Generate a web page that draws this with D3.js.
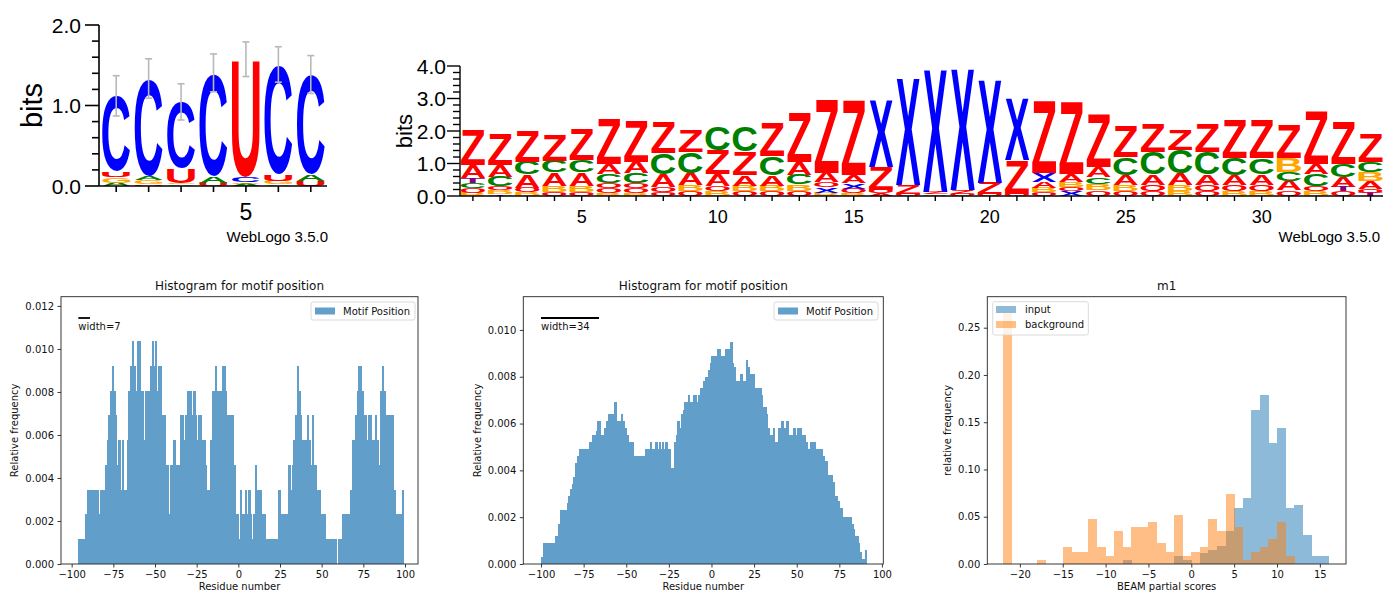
<!DOCTYPE html>
<html><head><meta charset="utf-8">
<script src="https://cdn.jsdelivr.net/npm/d3@7"></script>
<style>body{margin:0;background:#fff}svg{display:block}</style>
</head><body>
<svg id="c" width="1386" height="594"></svg>
<script>
// ================= DATA =================
// Logo 1 (RNA motif), stacks bottom -> top: [letter, bits]
const logo1Positions = [1,2,3,4,5,6,7];
const logo1Stacks = [
 [["A",0.04],["G",0.07],["U",0.07],["C",0.93]],
 [["U",0.02],["G",0.05],["A",0.05],["C",1.20]],
 [["A",0.02],["G",0.02],["U",0.18],["C",0.81]],
 [["U",0.04],["A",0.08],["C",1.26]],
 [["A",0.03],["G",0.02],["C",0.06],["U",1.44]],
 [["A",0.02],["G",0.04],["U",0.08],["C",1.34]],
 [["U",0.06],["A",0.08],["C",1.22]]
];
const logo1ErrLow  = [0.87,1.09,0.82,1.17,1.36,1.29,1.15];
const logo1ErrHigh = [1.37,1.58,1.27,1.64,1.79,1.73,1.62];
const logo1Colors = {A:"#008000", C:"#0000ff", G:"#ffa500", U:"#ff0000"};
const logo1YTicks = [0,1,2];
const logo1XLabels = [5];

// Logo 2 (34 positions)
const logo2Stacks = [
 [["B",0.10],["O",0.15],["C",0.15],["T",0.15],["A",0.40],["Z",1.05]],
 [["T",0.05],["B",0.12],["O",0.13],["C",0.30],["A",0.35],["Z",0.95]],
 [["B",0.12],["O",0.14],["A",0.40],["C",0.40],["Z",0.94]],
 [["O",0.12],["B",0.20],["A",0.40],["C",0.37],["Z",0.79]],
 [["O",0.12],["B",0.20],["A",0.40],["C",0.38],["Z",0.93]],
 [["B",0.08],["O",0.15],["O",0.17],["C",0.28],["A",0.32],["Z",1.37]],
 [["B",0.08],["O",0.15],["O",0.17],["C",0.30],["A",0.34],["Z",1.25]],
 [["O",0.12],["O",0.15],["A",0.40],["C",0.64],["Z",0.95]],
 [["O",0.15],["B",0.18],["A",0.38],["C",0.65],["Z",0.67]],
 [["B",0.15],["O",0.17],["A",0.35],["Z",0.75],["C",0.71]],
 [["O",0.14],["B",0.18],["A",0.33],["Z",0.72],["C",0.76]],
 [["O",0.14],["B",0.18],["A",0.33],["C",0.58],["Z",1.03]],
 [["O",0.15],["B",0.20],["C",0.30],["A",0.41],["Z",1.51]],
 [["B",0.10],["X",0.17],["O",0.15],["A",0.30],["Z",2.23]],
 [["B",0.08],["O",0.15],["X",0.17],["A",0.25],["Z",2.30]],
 [["A",0.08],["O",0.10],["Z",0.72],["X",2.07]],
 [["O",0.06],["Z",0.28],["X",3.33]],
 [["O",0.05],["Z",0.08],["X",3.80]],
 [["O",0.06],["Z",0.12],["X",3.75]],
 [["O",0.06],["Z",0.35],["X",3.18]],
 [["O",0.06],["Z",1.04],["X",1.93]],
 [["O",0.12],["B",0.14],["A",0.18],["X",0.26],["Z",2.20]],
 [["X",0.15],["O",0.13],["B",0.16],["A",0.24],["Z",2.19]],
 [["O",0.17],["B",0.20],["C",0.20],["A",0.31],["Z",1.61]],
 [["O",0.15],["B",0.20],["A",0.30],["C",0.54],["Z",0.96]],
 [["O",0.15],["O",0.20],["A",0.32],["C",0.69],["Z",0.86]],
 [["B",0.15],["B",0.18],["A",0.37],["C",0.72],["Z",0.61]],
 [["O",0.15],["O",0.20],["A",0.33],["C",0.68],["Z",0.86]],
 [["B",0.15],["O",0.20],["A",0.30],["C",0.51],["Z",1.18]],
 [["B",0.15],["O",0.20],["A",0.32],["C",0.49],["Z",1.18]],
 [["O",0.17],["A",0.30],["C",0.28],["B",0.41],["Z",1.02]],
 [["B",0.14],["O",0.15],["C",0.38],["A",0.33],["Z",1.60]],
 [["O",0.15],["T",0.14],["A",0.30],["C",0.41],["Z",1.29]],
 [["T",0.10],["O",0.12],["A",0.24],["B",0.28],["C",0.32],["Z",0.87]]
];
const logo2Colors = {Z:"#ff0000", A:"#ff0000", O:"#ff0000", X:"#0000ff", C:"#008000", B:"#ffa500", T:"#800080"};
const logo2YTicks = [0,1,2,3,4];
const logo2XLabels = [5,10,15,20,25,30];

// Histogram 1: counts per unit bin starting at residue -97, one count = unit frequency
const hist1Start = -97;
const hist1Unit = 0.001152;
const hist1Counts = [
 0,1,1,1,1,2,3,3,3,3,
 3,3,3,2,3,3,3,4,5,6,
 7,8,7,6,4,5,3,5,3,3,
 5,7,8,9,8,7,9,9,7,7,
 5,7,7,7,8,9,8,9,7,8,
 8,6,6,4,4,2,4,4,5,4,
 4,4,6,6,5,6,7,7,7,6,
 7,6,5,6,6,5,5,4,3,3,
 5,7,7,8,7,7,7,8,8,7,
 6,6,6,6,4,2,2,1,3,2,
 2,3,2,3,2,1,2,4,3,3,
 3,2,2,1,1,1,1,1,1,1,
 1,3,2,2,2,2,2,4,3,4,
 5,6,8,7,6,5,5,5,6,5,
 4,6,4,4,3,3,2,2,2,1,
 1,1,1,1,1,1,0,1,1,2,
 2,2,2,2,3,5,5,6,7,8,
 8,7,6,6,5,6,6,5,5,6,
 5,4,7,8,7,6,6,6,6,6,
 3,2,2,2,2,3
];
const hist1Width = 7;

// Histogram 2: relative frequency (x1e-4) per unit bin starting at residue -100
const hist2Start = -100;
const hist2FreqE4 = [
 3,9,9,9,9,9,9,9,12,12,
 17,23,23,23,23,26,29,32,34,37,
 43,46,49,49,49,49,49,49,52,52,
 55,55,57,61,61,55,55,58,61,64,
 64,64,64,69,61,61,61,64,61,58,
 55,52,52,52,46,46,46,46,46,46,
 46,49,49,49,52,49,49,52,49,52,
 49,52,49,52,49,49,41,41,52,55,
 61,58,64,66,69,69,72,69,69,72,
 72,69,72,75,75,78,80,80,83,86,
 89,89,89,92,92,89,89,89,92,92,
 92,95,86,84,78,78,78,81,78,78,
 87,84,81,81,81,75,75,75,75,72,
 67,67,64,58,55,55,58,52,52,58,
 58,61,58,58,61,55,55,55,58,55,
 58,58,58,55,55,52,49,49,52,52,
 52,49,49,49,49,46,44,44,38,38,
 38,35,29,29,27,24,24,20,20,20,
 20,20,17,15,12,12,9,5,2,2,
 6
];
const hist2Width = 34;

// Histogram 3 (m1): unit bins starting at -22
const hist3Start = -22;
const hist3Input = [
 0,0,0,0,0,0,0,0,0,0,
 0,0,0,0,0.004,0,0,0,0,0,
 0.0085,0.004,0,0.012,0.015,0.019,0.035,0.059,0.070,0.163,
 0.179,0.128,0.144,0.059,0.062,0.031,0.0085,0.0085
];
const hist3Background = [
 0.266,0,0,0,0.0042,0,0,0.018,0.013,0.013,
 0.048,0.018,0.0085,0.035,0.018,0.039,0.039,0.044,0.022,0.013,
 0.052,0.0085,0.013,0.018,0.048,0.035,0.074,0.039,0.004,0.013,
 0.018,0.026,0.044,0.0085,0,0,0,0
];

// ================= DRAWING =================
const svg = d3.select("#c");
svg.append("rect").attr("width",1386).attr("height",594).attr("fill","#fff");

const LOGOFONT = "Liberation Sans";
const MPLFONT = "DejaVu Sans";
const cv = document.createElement("canvas").getContext("2d");
const glyphCache = {};
function glyph(ch){
  if(glyphCache[ch]) return glyphCache[ch];
  cv.font = `bold 100px "${LOGOFONT}"`;
  const m = cv.measureText(ch);
  return glyphCache[ch] = {l:m.actualBoundingBoxLeft, r:m.actualBoundingBoxRight, a:m.actualBoundingBoxAscent, d:m.actualBoundingBoxDescent};
}
function drawLetter(g, ch, x0, x1, yTop, yBot, color){
  if (yBot - yTop < 0.4) return;
  const b = glyph(ch);
  const sx = (x1-x0)/(b.l+b.r), sy = (yBot-yTop)/(b.a+b.d);
  g.append("text")
   .attr("transform",`translate(${x0},${yBot}) scale(${sx},${sy}) translate(${b.l},${-b.d})`)
   .attr("font-family",LOGOFONT).attr("font-weight","bold").attr("font-size",100)
   .attr("fill",color).text(ch);
}
function drawLogo(g, stacks, xs, ys, colors, fill){
  const colW = xs(1)-xs(0);
  stacks.forEach((st,i)=>{
    const xc = xs(i+1);
    let cum = 0;
    st.forEach(([ch,h])=>{
      drawLetter(g, ch, xc-colW*fill/2, xc+colW*fill/2, ys(cum+h), ys(cum), colors[ch]);
      cum += h;
    });
  });
}

// ----- Logo 1 -----
{
  const g = svg.append("g");
  const xs = d3.scaleLinear().domain([0.5,7.5]).range([100,327]);
  const ys = d3.scaleLinear().domain([0,2]).range([186,25]);
  drawLogo(g, logo1Stacks, xs, ys, logo1Colors, 0.86);
  const eg = g.append("g").attr("stroke","#b8b8b8").attr("stroke-width",1.6).attr("fill","none");
  logo1Positions.forEach((p,i)=>{
    const x = xs(p);
    eg.append("line").attr("x1",x).attr("x2",x).attr("y1",ys(logo1ErrLow[i])).attr("y2",ys(logo1ErrHigh[i]));
    [logo1ErrLow[i],logo1ErrHigh[i]].forEach(v=>eg.append("line").attr("x1",x-3.5).attr("x2",x+3.5).attr("y1",ys(v)).attr("y2",ys(v)));
  });
  const ax = g.append("g").attr("stroke","#000").attr("stroke-width",1.6);
  ax.append("line").attr("x1",99).attr("x2",99).attr("y1",ys(2)).attr("y2",ys(0));
  d3.range(0,2.001,0.2).forEach(v=>{
    const major = Math.abs(v-Math.round(v))<1e-6;
    ax.append("line").attr("x1",99-(major?14:7)).attr("x2",99).attr("y1",ys(v)).attr("y2",ys(v));
  });
  logo1YTicks.forEach(v=>{
    g.append("text").attr("x",81).attr("y",ys(v)+7.5).attr("text-anchor","end")
     .attr("font-family",LOGOFONT).attr("font-size",21).text(d3.format(".1f")(v));
  });
  g.append("text").attr("transform",`translate(42,${ys(1)}) rotate(-90)`).attr("text-anchor","middle")
   .attr("font-family",LOGOFONT).attr("font-size",29).text("bits");
  ax.append("line").attr("x1",99).attr("x2",327).attr("y1",ys(0)).attr("y2",ys(0));
  logo1Positions.forEach(p=>ax.append("line").attr("x1",xs(p)).attr("x2",xs(p)).attr("y1",ys(0)).attr("y2",ys(0)+6));
  logo1XLabels.forEach(p=>g.append("text").attr("x",xs(p)).attr("y",220).attr("text-anchor","middle")
     .attr("font-family",LOGOFONT).attr("font-size",23).text(p));
  g.append("text").attr("x",328).attr("y",242).attr("text-anchor","end")
   .attr("font-family",LOGOFONT).attr("font-size",15).text("WebLogo 3.5.0");
}

// ----- Logo 2 -----
{
  const g = svg.append("g");
  const xs = d3.scaleLinear().domain([0.5,34.5]).range([459.3,1384.1]);
  const ys = d3.scaleLinear().domain([0,4]).range([196,66]);
  drawLogo(g, logo2Stacks, xs, ys, logo2Colors, 0.9);
  const ax = g.append("g").attr("stroke","#000").attr("stroke-width",1.4);
  ax.append("line").attr("x1",460).attr("x2",460).attr("y1",ys(4)).attr("y2",ys(0));
  d3.range(0,4.001,0.2).forEach(v=>{
    const major = Math.abs(v-Math.round(v))<1e-6;
    ax.append("line").attr("x1",460-(major?13:7)).attr("x2",460).attr("y1",ys(v)).attr("y2",ys(v));
  });
  logo2YTicks.forEach(v=>{
    g.append("text").attr("x",446).attr("y",ys(v)+7.5).attr("text-anchor","end")
     .attr("font-family",LOGOFONT).attr("font-size",21).text(d3.format(".1f")(v));
  });
  g.append("text").attr("transform",`translate(412,${ys(2)}) rotate(-90)`).attr("text-anchor","middle")
   .attr("font-family",LOGOFONT).attr("font-size",22).text("bits");
  ax.append("line").attr("x1",460).attr("x2",1383).attr("y1",ys(0)).attr("y2",ys(0));
  logo2Stacks.forEach((s,i)=>ax.append("line").attr("x1",xs(i+1)).attr("x2",xs(i+1)).attr("y1",ys(0)).attr("y2",ys(0)+5));
  logo2XLabels.forEach(p=>g.append("text").attr("x",xs(p)).attr("y",223).attr("text-anchor","middle")
     .attr("font-family",LOGOFONT).attr("font-size",18).text(p));
  g.append("text").attr("x",1380).attr("y",242).attr("text-anchor","end")
   .attr("font-family",LOGOFONT).attr("font-size",15).text("WebLogo 3.5.0");
}

// ----- matplotlib-like axes helper -----
function mplAxes(opt){
  const g = svg.append("g");
  const xs = d3.scaleLinear().domain(opt.xdom).range([opt.left,opt.right]);
  const ys = d3.scaleLinear().domain(opt.ydom).range([opt.bottom,opt.top]);
  const content = g.append("g");
  const xa = g.append("g").attr("transform",`translate(0,${opt.bottom})`)
    .call(d3.axisBottom(xs).tickValues(opt.xticks).tickSize(3.5).tickPadding(3.5).tickSizeOuter(0));
  const ya = g.append("g").attr("transform",`translate(${opt.left},0)`)
    .call(d3.axisLeft(ys).tickValues(opt.yticks).tickFormat(d3.format(opt.yfmt)).tickSize(3.5).tickPadding(3.5).tickSizeOuter(0));
  [xa,ya].forEach(a=>{
    a.select(".domain").remove();
    a.selectAll("text").attr("font-family",MPLFONT).attr("font-size",10).attr("fill","#111");
    a.selectAll("line").attr("stroke","#222").attr("stroke-width",0.9);
  });
  g.append("rect").attr("x",opt.left).attr("y",opt.top).attr("width",opt.right-opt.left).attr("height",opt.bottom-opt.top)
   .attr("fill","none").attr("stroke","#222").attr("stroke-width",0.9);
  g.append("text").attr("x",(opt.left+opt.right)/2).attr("y",290).attr("text-anchor","middle")
   .attr("font-family",MPLFONT).attr("font-size",12).attr("fill","#111").text(opt.title);
  g.append("text").attr("x",(opt.left+opt.right)/2).attr("y",590).attr("text-anchor","middle")
   .attr("font-family",MPLFONT).attr("font-size",10).attr("fill","#111").text(opt.xlabel);
  g.append("text").attr("transform",`translate(${opt.ylabX},${(opt.top+opt.bottom)/2}) rotate(-90)`).attr("text-anchor","middle")
   .attr("font-family",MPLFONT).attr("font-size",10).attr("fill","#111").text(opt.ylabel);
  return {g, content, xs, ys};
}
function legendBox(g, x, y, w, h){
  g.append("rect").attr("x",x).attr("y",y).attr("width",w).attr("height",h).attr("rx",2)
   .attr("fill","#fff").attr("fill-opacity",0.8).attr("stroke","#d6d6d6").attr("stroke-width",0.9);
}
const BLUE = "#1f77b4", ORANGE = "#ff7f0e";

// ----- Histogram 1 -----
{
  const A = mplAxes({left:61,right:418,top:296.7,bottom:564,xdom:[-106.4,107.8],ydom:[0,0.01243],
    xticks:[-100,-75,-50,-25,0,25,50,75,100], yticks:[0,0.002,0.004,0.006,0.008,0.010,0.012], yfmt:".3f",
    title:"Histogram for motif position", xlabel:"Residue number", ylabel:"Relative frequency", ylabX:18});
  A.content.attr("opacity",0.7).attr("shape-rendering","crispEdges")
   .selectAll("rect").data(hist1Counts.map((c,i)=>({v:hist1Start+i,f:c*hist1Unit})).filter(d=>d.f>0))
   .join("rect").attr("x",d=>A.xs(d.v)).attr("width",d=>A.xs(d.v+1)-A.xs(d.v)+0.6)
   .attr("y",d=>A.ys(d.f)).attr("height",d=>A.ys(0)-A.ys(d.f)).attr("fill",BLUE);
  const s0 = hist1Start+1;
  A.g.append("line").attr("x1",A.xs(s0)).attr("x2",A.xs(s0+hist1Width)).attr("y1",318).attr("y2",318).attr("stroke","#000").attr("stroke-width",1.8);
  A.g.append("text").attr("x",A.xs(s0)).attr("y",330).attr("font-family",MPLFONT).attr("font-size",10).attr("fill","#111").text("width="+hist1Width);
  legendBox(A.g, 311, 302, 104, 18);
  A.g.append("rect").attr("x",315).attr("y",307.5).attr("width",20).attr("height",7).attr("fill",BLUE).attr("fill-opacity",0.7);
  A.g.append("text").attr("x",343).attr("y",314.5).attr("font-family",MPLFONT).attr("font-size",10).attr("fill","#111").text("Motif Position");
}

// ----- Histogram 2 -----
{
  const A = mplAxes({left:523.3,right:883.3,top:296.7,bottom:564,xdom:[-110.4,100.8],ydom:[0,0.01142],
    xticks:[-100,-75,-50,-25,0,25,50,75,100], yticks:[0,0.002,0.004,0.006,0.008,0.010], yfmt:".3f",
    title:"Histogram for motif position", xlabel:"Residue number", ylabel:"Relative frequency", ylabX:481});
  A.content.attr("opacity",0.7).attr("shape-rendering","crispEdges")
   .selectAll("rect").data(hist2FreqE4.map((c,i)=>({v:hist2Start+i,f:c/10000})).filter(d=>d.f>0))
   .join("rect").attr("x",d=>A.xs(d.v)).attr("width",d=>A.xs(d.v+1)-A.xs(d.v)+0.6)
   .attr("y",d=>A.ys(d.f)).attr("height",d=>A.ys(0)-A.ys(d.f)).attr("fill",BLUE);
  A.g.append("line").attr("x1",A.xs(hist2Start)).attr("x2",A.xs(hist2Start+hist2Width)).attr("y1",318).attr("y2",318).attr("stroke","#000").attr("stroke-width",1.8);
  A.g.append("text").attr("x",A.xs(hist2Start)).attr("y",330).attr("font-family",MPLFONT).attr("font-size",10).attr("fill","#111").text("width="+hist2Width);
  legendBox(A.g, 774, 302, 104, 18);
  A.g.append("rect").attr("x",778).attr("y",307.5).attr("width",20).attr("height",7).attr("fill",BLUE).attr("fill-opacity",0.7);
  A.g.append("text").attr("x",806).attr("y",314.5).attr("font-family",MPLFONT).attr("font-size",10).attr("fill","#111").text("Motif Position");
}

// ----- Histogram 3 -----
{
  const A = mplAxes({left:987.3,right:1346,top:296.7,bottom:564,xdom:[-23.8,18.05],ydom:[0,0.2828],
    xticks:[-20,-15,-10,-5,0,5,10,15], yticks:[0,0.05,0.10,0.15,0.20,0.25], yfmt:".2f",
    title:"m1", xlabel:"BEAM partial scores", ylabel:"relative frequency", ylabX:951});
  [[hist3Input,BLUE],[hist3Background,ORANGE]].forEach(([arr,col])=>{
    A.content.append("g").attr("opacity",0.5).attr("shape-rendering","crispEdges")
     .selectAll("rect").data(arr.map((f,i)=>({v:hist3Start+i,f})).filter(d=>d.f>0))
     .join("rect").attr("x",d=>A.xs(d.v)).attr("width",d=>A.xs(d.v+1)-A.xs(d.v)+0.4)
     .attr("y",d=>A.ys(d.f)).attr("height",d=>A.ys(0)-A.ys(d.f)).attr("fill",col);
  });
  legendBox(A.g, 992.7, 301.7, 95.6, 33.3);
  A.g.append("rect").attr("x",996).attr("y",306).attr("width",20).attr("height",7).attr("fill",BLUE).attr("fill-opacity",0.5);
  A.g.append("text").attr("x",1025).attr("y",313).attr("font-family",MPLFONT).attr("font-size",10).attr("fill","#111").text("input");
  A.g.append("rect").attr("x",996).attr("y",321).attr("width",20).attr("height",7).attr("fill",ORANGE).attr("fill-opacity",0.5);
  A.g.append("text").attr("x",1025).attr("y",328).attr("font-family",MPLFONT).attr("font-size",10).attr("fill","#111").text("background");
}
</script>
</body></html>
